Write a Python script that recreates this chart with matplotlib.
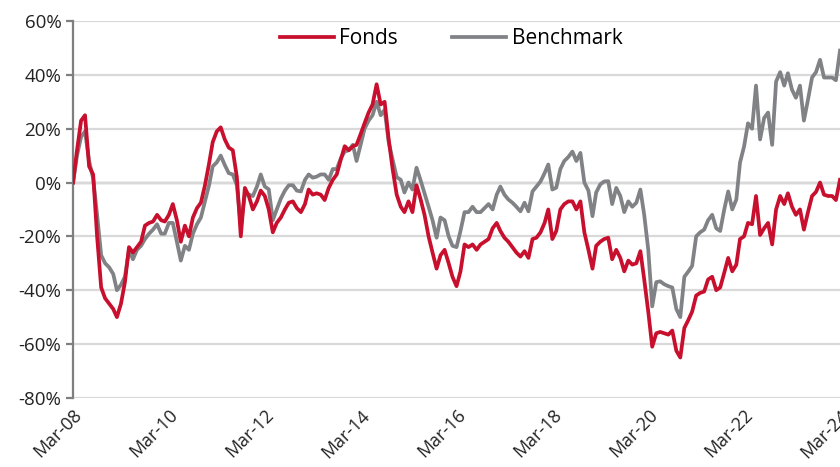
import matplotlib.pyplot as plt
import matplotlib.dates as mdates
import matplotlib.ticker as mtick
import pandas as pd

dates = pd.date_range("2008-03-31", periods=193, freq="ME")

fonds = [
    0, 12, 23, 25, 6, 3, -20, -39, -43, -45, -47, -50,
    -45, -37, -24, -26, -24, -22, -16, -15, -14.5, -12, -14, -14.5,
    -12, -8, -14, -22, -16, -20, -13, -9.5, -7.5, -1, 7, 15,
    19, 20.5, 16, 13, 12, 2, -20, -2, -5, -10, -7, -3,
    -5, -10, -18.5, -15, -13, -10, -7.5, -7, -9.5, -11, -8, -2.6,
    -4.5, -4, -4.5, -6.5, -2, 1, 3, 8.5, 13.5, 12, 13.5, 14,
    18, 22, 26, 29, 36.5, 29, 30, 16, 5, -4.5, -9, -11,
    -7, -11, -1, -6, -12, -20, -26, -32, -27, -25, -30, -35,
    -38.5, -33, -23, -24, -23, -25, -23, -22, -21, -17, -15, -18,
    -20.5, -22, -24, -26, -27.5, -25.5, -28, -21, -20.5, -18.5, -15, -10,
    -21, -18, -10, -8, -7, -7, -10, -7, -18.5, -25, -32, -23.5,
    -22, -21, -20.5, -28.5, -25, -28, -33, -29, -30.5, -30, -25.5, -36,
    -48, -61, -56, -55.5, -56, -56.5, -55, -62.5, -65, -54, -51, -48,
    -42, -41, -40.5, -36, -35, -40, -39, -33.5, -28, -33, -30.5, -21,
    -20, -15, -15.5, -5, -19.5, -17, -15, -23, -10, -5, -8, -4,
    -9, -12, -10, -17.5, -11, -5, -3.5, 0, -4.5, -5, -5, -6.5,
    1,
]

benchmark = [
    0, 10, 17, 19, 8, 1.5, -12, -27, -30, -31.5, -34, -40,
    -38, -35, -25, -28.5, -25, -23.5, -21, -19, -17.5, -15.5, -19, -19,
    -15, -15, -22, -29, -23.5, -25, -19, -15.5, -13, -7, -1, 6,
    7.5, 10, 6.5, 3.5, 3, -1, -16, -4.5, -4.5, -5, -1.5, 3,
    -1.5, -2.5, -14, -10, -6, -3, -1, -1, -3, -3.3, 1, 3,
    1.8, 2.2, 3, 3, 1, 5, 5, 9, 11.5, 12, 14, 8,
    14, 20, 23, 25, 30, 25, 27, 15, 8.5, 2, 1, -3.7,
    0, -2.6, 5.5, 1, -4, -9, -14, -20.5, -13, -14, -20, -23.5,
    -24, -18, -11, -11, -9, -11, -11, -9.5, -8, -10, -4.5, -1.5,
    -4.5, -6.3, -7.5, -9, -10.7, -7.5, -10.7, -3.3, -1.5, 0.4, 3.5, 6.7,
    -2.6, -1.9, 5, 8, 9.5, 11.5, 8, 11, 0, -3, -12.5, -3.7,
    -0.7, 0.4, 0.5, -8, -2, -5, -11, -7, -9, -7.5, -2.6, -12,
    -25, -46, -37, -36.7, -37.8, -38.5, -39, -47, -50, -35, -33, -31,
    -20, -18.5, -17.5, -14, -12, -17, -18, -10, -3.3, -10, -6.3, 7.4,
    13.4, 22, 20, 36, 16, 24, 26, 14, 37.5, 41, 36, 40.6,
    34.5, 31.5, 36, 23, 30.8, 39, 41, 45.6, 39, 39, 39, 38,
    49,
]

tick_dates = pd.date_range("2008-03-31", "2024-03-31", freq="24ME")

plt.rcParams['font.family'] = ['Open Sans', 'DejaVu Sans']

fig = plt.figure(figsize=(8.4, 4.67), dpi=100)
ax = fig.add_axes([0.087, 0.148, 0.913, 0.807])

ax.plot(dates, fonds, color="#C8102E", lw=2.7, label="Fonds", zorder=3)
ax.plot(dates, benchmark, color="#808285", lw=2.7, label="Benchmark", zorder=2)

ax.set_ylim(-80, 60)
ax.set_yticks(range(-80, 61, 20))
ax.yaxis.set_major_formatter(mtick.FuncFormatter(lambda v, p: f"{int(v)}%"))
ax.grid(axis="y", color="#D9D9D9", lw=1.6, zorder=0)
ax.axhline(0, color="#7F7F7F", lw=1.6, zorder=1)

ax.set_xlim(dates[0], dates[-1])
ax.set_xticks(tick_dates)
ax.xaxis.set_major_formatter(mdates.DateFormatter("%b-%y"))
plt.setp(ax.get_xticklabels(), rotation=45, ha="right", rotation_mode="anchor")

for s in ["top", "right", "bottom"]:
    ax.spines[s].set_visible(False)
ax.spines["left"].set_color("#7F7F7F")
ax.spines["left"].set_linewidth(1.6)
ax.tick_params(axis="y", length=5, width=1.6, color="#7F7F7F", labelsize=13.5, labelcolor="#222222")
ax.tick_params(axis="x", length=0, labelsize=13, labelcolor="#222222", pad=6)

ax.legend(loc="upper center", bbox_to_anchor=(0.493, 1.03), ncol=2, frameon=False,
          fontsize=15, handlelength=2.6, columnspacing=2.6, handletextpad=0.25)

fig.savefig("out.png", dpi=100)
